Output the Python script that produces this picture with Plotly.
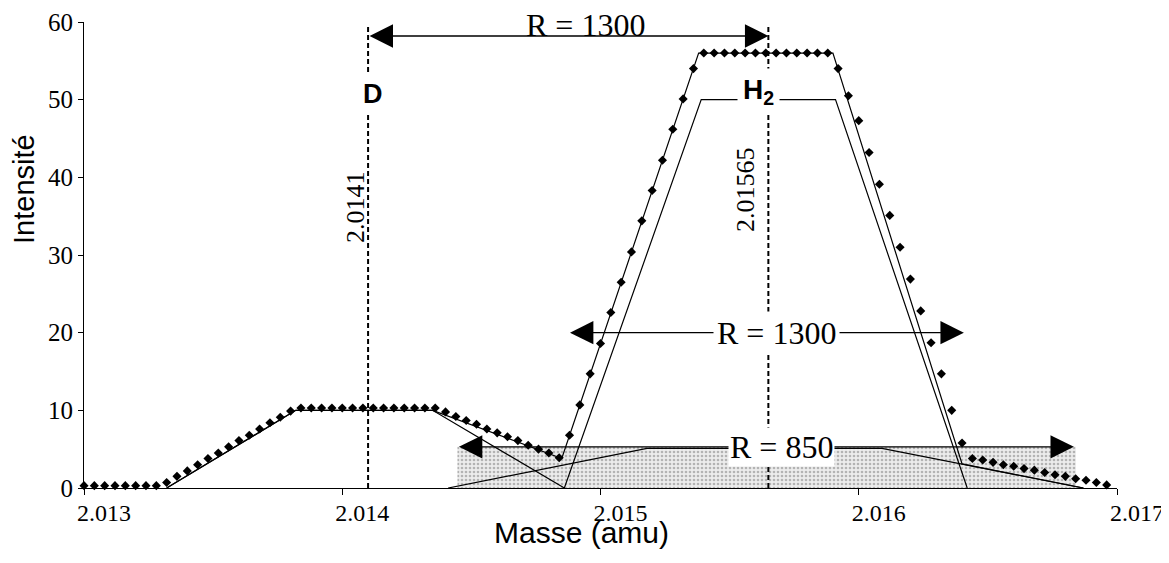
import plotly.graph_objects as go

MASS = [
    2.01300, 2.01304, 2.01308, 2.01312, 2.01316, 2.01320, 2.01324, 2.01328, 2.01332, 2.01336,
    2.01340, 2.01344, 2.01348, 2.01352, 2.01356, 2.01360, 2.01364, 2.01368, 2.01372, 2.01376,
    2.01380, 2.01384, 2.01388, 2.01392, 2.01396, 2.01400, 2.01404, 2.01408, 2.01412, 2.01416,
    2.01420, 2.01424, 2.01428, 2.01432, 2.01436, 2.01440, 2.01444, 2.01448, 2.01452, 2.01456,
    2.01460, 2.01464, 2.01468, 2.01472, 2.01476, 2.01480, 2.01484, 2.01488, 2.01492, 2.01496,
    2.01500, 2.01504, 2.01508, 2.01512, 2.01516, 2.01520, 2.01524, 2.01528, 2.01532, 2.01536,
    2.01540, 2.01544, 2.01548, 2.01552, 2.01556, 2.01560, 2.01564, 2.01568, 2.01572, 2.01576,
    2.01580, 2.01584, 2.01588, 2.01592, 2.01596, 2.01600, 2.01604, 2.01608, 2.01612, 2.01616,
    2.01620, 2.01624, 2.01628, 2.01632, 2.01636, 2.01640, 2.01644, 2.01648, 2.01652, 2.01656,
    2.01660, 2.01664, 2.01668, 2.01672, 2.01676, 2.01680, 2.01684, 2.01688, 2.01692, 2.01696,
]
INTENSITY = [
    0.3, 0.3, 0.3, 0.3, 0.3, 0.3, 0.3, 0.3, 0.7, 1.5,
    2.2, 3.0, 3.8, 4.5, 5.3, 6.1, 6.8, 7.6, 8.4, 9.1,
    9.9, 10.3, 10.3, 10.3, 10.3, 10.3, 10.3, 10.3, 10.3, 10.3,
    10.3, 10.3, 10.3, 10.3, 10.3, 9.8, 9.2, 8.7, 8.2, 7.6,
    7.1, 6.6, 6.1, 5.5, 5.0, 4.5, 3.9, 6.8, 10.7, 14.7,
    18.6, 22.6, 26.5, 30.4, 34.4, 38.3, 42.2, 46.2, 50.1, 54.0,
    56, 56, 56, 56, 56, 56, 56, 56, 56, 56,
    56, 56, 56, 54.0, 50.5, 47.3, 43.2, 39.1, 35.1, 31.0,
    26.9, 22.8, 18.7, 14.7, 10.0, 5.8, 3.8, 3.6, 3.3, 3.0,
    2.8, 2.5, 2.3, 2.0, 1.7, 1.5, 1.2, 1.0, 0.7, 0.4,
]

# Model components (trapezoids) and their sum
D_MASS = [2.01332, 2.01382, 2.01435, 2.01486]
D_INT = [0, 10, 10, 0]
H2_MASS = [2.01486, 2.01539, 2.01591, 2.01642]
H2_INT = [0, 50, 50, 0]
BROAD_MASS = [2.01441, 2.01518, 2.01609, 2.01687]
BROAD_INT = [0, 5.1, 5.1, 0]
SUM_MASS = [2.01332, 2.01382, 2.01435, 2.01485, 2.01538, 2.01590, 2.01640, 2.01687]
SUM_INT = [0, 10, 10, 3.8, 56, 56, 3.1, 0]

# Shaded band under R = 850
BAND_MASS = [2.014446, 2.016841, 2.016841, 2.014446]
BAND_INT = [0, 0, 5.3, 5.3]

X_TICKS = [2.013, 2.014, 2.015, 2.016, 2.017]
X_TICKTEXT = ['2.013', '2.014', '2.015', '2.016', '2.017']
Y_TICKS = [0, 10, 20, 30, 40, 50, 60]

D_MASS_REF = 2.0141
H2_MASS_REF = 2.01565

SERIF = 'Liberation Serif'
SANS = 'Liberation Sans'

fig = go.Figure()

fig.add_trace(go.Scatter(
    x=BAND_MASS, y=BAND_INT, mode='lines', fill='toself',
    line=dict(width=0, color='rgba(0,0,0,0)'),
    fillpattern=dict(shape='.', fgcolor='#7a7a7a', bgcolor='#ececec', size=4, solidity=0.35),
    hoverinfo='skip'))

for xs, ys in [(D_MASS, D_INT), (H2_MASS, H2_INT), (BROAD_MASS, BROAD_INT), (SUM_MASS, SUM_INT)]:
    fig.add_trace(go.Scatter(x=xs, y=ys, mode='lines',
                             line=dict(color='black', width=1.2), cliponaxis=False))

fig.add_trace(go.Scatter(
    x=MASS, y=INTENSITY, mode='markers', cliponaxis=False,
    marker=dict(symbol='diamond', size=7, color='black')))

# dashed reference masses
for xm in [D_MASS_REF, H2_MASS_REF]:
    fig.add_shape(type='line', x0=xm, x1=xm, y0=0, y1=59.6, xref='x', yref='y',
                  line=dict(color='black', width=2, dash='5px,3px'))

# double arrows
arrows = [
    (D_MASS_REF, H2_MASS_REF, 58.2),
    (2.014876, 2.016407, 20.0),
    (2.014446, 2.016833, 5.3),
]
for x0, x1, yy in arrows:
    fig.add_annotation(x=x1, y=yy, ax=x0, ay=yy, xref='x', yref='y', axref='x', ayref='y',
                       text='', showarrow=True, arrowside='end+start', arrowhead=2,
                       arrowsize=3.6, arrowwidth=1.3, arrowcolor='black',
                       standoff=0, startstandoff=0)

fig.add_annotation(x=2.014942, y=58.2, xref='x', yref='y', text='R = 1300', showarrow=False,
                   yanchor='bottom', yshift=-9, font=dict(family=SERIF, size=32, color='black'))
fig.add_annotation(x=2.015682, y=20.0, xref='x', yref='y', text='R = 1300', showarrow=False,
                   bgcolor='white', borderpad=3, font=dict(family=SERIF, size=32, color='black'))
fig.add_annotation(x=2.015702, y=5.3, xref='x', yref='y', text='R = 850', showarrow=False,
                   bgcolor='white', borderpad=1, font=dict(family=SERIF, size=32, color='black'))

# peak labels
fig.add_annotation(x=D_MASS_REF, y=50.5, xref='x', yref='y', xshift=5, yshift=2, text='<b>D</b>',
                   showarrow=False, bgcolor='white', borderpad=5,
                   font=dict(family=SANS, size=27, color='black'))
fig.add_annotation(x=2.01561, y=50.4, xref='x', yref='y', yshift=5, text='<b>H<sub>2</sub></b>',
                   showarrow=False, bgcolor='white', borderpad=5,
                   font=dict(family=SANS, size=28, color='black'))

# rotated mass values
fig.add_annotation(x=D_MASS_REF, y=36.2, xref='x', yref='y', xshift=-12, text='2.0141',
                   textangle=-90, showarrow=False, font=dict(family=SERIF, size=26, color='black'))
fig.add_annotation(x=H2_MASS_REF, y=38.4, xref='x', yref='y', xshift=-23, text='2.01565',
                   textangle=-90, showarrow=False, font=dict(family=SERIF, size=26, color='black'))

# axis titles
fig.add_annotation(x=0, y=38.5, xref='paper', yref='y', xanchor='center', xshift=-60,
                   text='Intensité', textangle=-90, showarrow=False,
                   font=dict(family=SANS, size=29, color='black'))
fig.add_annotation(x=2.014926, y=0, xref='x', yref='paper', yshift=-44, yanchor='middle',
                   text='Masse (amu)', showarrow=False,
                   font=dict(family=SANS, size=30, color='black'))

fig.update_xaxes(range=[2.013, 2.017], tickvals=X_TICKS, ticktext=X_TICKTEXT,
                 showline=True, linecolor='black', linewidth=1.2, ticks='outside',
                 ticklen=6, tickcolor='black', ticklabelshift=20, ticklabelstandoff=-3,
                 ticklabeloverflow='allow', automargin=False,
                 tickfont=dict(family=SERIF, size=24, color='black'),
                 showgrid=False, zeroline=False)
fig.update_yaxes(range=[0, 60], tickvals=Y_TICKS, showline=True, linecolor='black',
                 linewidth=1.2, ticks='outside', ticklen=5, tickcolor='black',
                 automargin=False,
                 tickfont=dict(family=SERIF, size=25, color='black'),
                 showgrid=False, zeroline=False)

# the page body adds an 8px margin, so the figure is offset by it
fig.update_layout(width=1161, height=555, showlegend=False,
                  margin=dict(l=76, r=52, t=14, b=75),
                  plot_bgcolor='white', paper_bgcolor='white')

fig.write_html("out.html")
